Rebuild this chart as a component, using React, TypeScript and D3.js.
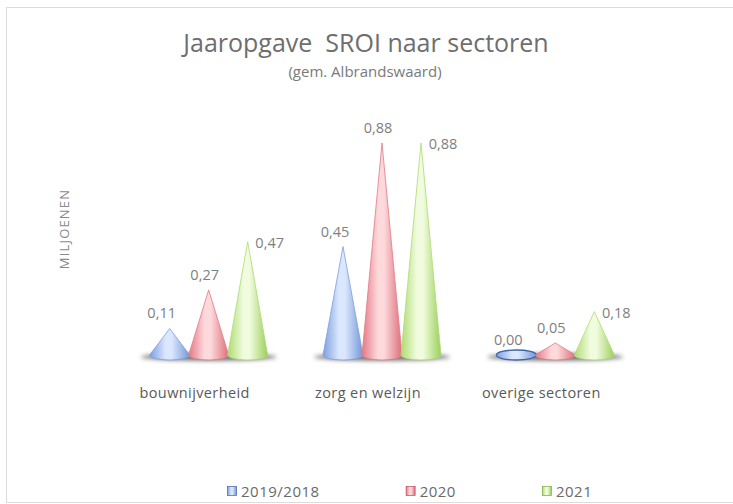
import { useEffect, useRef } from 'react';
import * as d3 from 'd3';

const categories = ['bouwnijverheid', 'zorg en welzijn', 'overige sectoren'];
const seriesNames = ['2019/2018', '2020', '2021'];
const values2019 = [0.11, 0.45, 0.0];
const values2020 = [0.27, 0.88, 0.05];
const values2021 = [0.47, 0.88, 0.18];
const seriesValues = [values2019, values2020, values2021];

const palette = [
  { edge: '#7d9fe0', light: '#dbe7fc', dark: '#7397d8', stroke: '#3f64aa' },
  { edge: '#e57884', light: '#fdd9dc', dark: '#dc6f7b', stroke: '#c24a57' },
  { edge: '#aedb72', light: '#f1fcdf', dark: '#9ccf5c', stroke: '#7aab3d' },
];

export default function App() {
  const svgRef = useRef<SVGSVGElement>(null);

  useEffect(() => {
    if (!svgRef.current) return;
    const svg = d3.select(svgRef.current);
    svg.selectAll('*').remove();

    const width = 733;
    const height = 504;
    const font = '"Open Sans", "DejaVu Sans", sans-serif';
    const baseY = 355;

    const defs = svg.append('defs');
    palette.forEach((p, i) => {
      const grad = defs
        .append('linearGradient')
        .attr('id', `cone-${i}`)
        .attr('x1', '0%')
        .attr('x2', '100%')
        .attr('y1', '0%')
        .attr('y2', '0%');
      grad.append('stop').attr('offset', '0%').attr('stop-color', p.edge);
      grad.append('stop').attr('offset', '40%').attr('stop-color', p.light);
      grad.append('stop').attr('offset', '55%').attr('stop-color', p.light);
      grad.append('stop').attr('offset', '100%').attr('stop-color', p.dark);
    });
    defs
      .append('filter')
      .attr('id', 'blur')
      .attr('x', '-50%')
      .attr('y', '-200%')
      .attr('width', '200%')
      .attr('height', '500%')
      .append('feGaussianBlur')
      .attr('stdDeviation', 2.2);

    // border
    svg
      .append('rect')
      .attr('x', 6.5)
      .attr('y', 7.5)
      .attr('width', width + 10)
      .attr('height', height - 9)
      .attr('fill', 'white')
      .attr('stroke', '#dcdcdc');

    // title
    svg
      .append('text')
      .attr('x', 366)
      .attr('y', 52)
      .attr('text-anchor', 'middle')
      .attr('font-family', font)
      .attr('font-size', 25)
      .attr('fill', '#6e6e6e')
      .text('Jaaropgave  SROI naar sectoren')
      .style('white-space', 'pre');

    svg
      .append('text')
      .attr('x', 365)
      .attr('y', 77)
      .attr('text-anchor', 'middle')
      .attr('font-family', font)
      .attr('font-size', 15)
      .attr('fill', '#7a7a7a')
      .text('(gem. Albrandswaard)');

    // axis title
    svg
      .append('text')
      .attr('transform', `translate(69,229) rotate(-90)`)
      .attr('text-anchor', 'middle')
      .attr('font-family', font)
      .attr('font-size', 13)
      .attr('letter-spacing', 1.2)
      .attr('fill', '#8a8a8a')
      .text('MILJOENEN');

    const xScale = d3.scaleBand().domain(categories).range([122, 642]);
    const inner = d3.scalePoint().domain(seriesNames).range([-39, 39]);
    const yScale = d3.scaleLinear().domain([0, 1]).range([baseY, baseY - 241]);

    const rx = 20;
    const ry = 5;
    const g = svg.append('g');

    // floor shadows
    categories.forEach((c) => {
      const cx = xScale(c)! + xScale.bandwidth() / 2;
      g.append('ellipse')
        .attr('cx', cx)
        .attr('cy', baseY + 2)
        .attr('rx', 68)
        .attr('ry', 3.5)
        .attr('fill', '#333')
        .attr('opacity', 0.7)
        .attr('filter', 'url(#blur)');
    });

    const labelDx = [-8, -4, 22];
    const labelDy = [-10, -10, 6];

    seriesNames.forEach((s, si) => {
      seriesValues[si].forEach((v, ci) => {
        const cx = xScale(categories[ci])! + xScale.bandwidth() / 2 + inner(s)!;
        const apex = yScale(v);
        const p = palette[si];
        if (v === 0) {
          g.append('ellipse')
            .attr('cx', cx)
            .attr('cy', baseY)
            .attr('rx', rx)
            .attr('ry', ry)
            .attr('fill', `url(#cone-${si})`)
            .attr('stroke', p.stroke)
            .attr('stroke-width', 1.3);
        } else {
          g.append('path')
            .attr(
              'd',
              `M${cx - rx},${baseY} L${cx},${apex} L${cx + rx},${baseY} A${rx},${ry} 0 0 1 ${cx - rx},${baseY} Z`
            )
            .attr('fill', `url(#cone-${si})`)
            .attr('stroke', p.edge)
            .attr('stroke-width', 0.8);
        }
        g.append('text')
          .attr('x', cx + labelDx[si])
          .attr('y', apex + labelDy[si])
          .attr('text-anchor', 'middle')
          .attr('font-family', font)
          .attr('font-size', 14.5)
          .attr('fill', '#7f7f7f')
          .text(d3.format('.2f')(v).replace('.', ','));
      });
    });

    // category labels
    categories.forEach((c) => {
      g.append('text')
        .attr('x', xScale(c)! + xScale.bandwidth() / 2 - 14)
        .attr('y', 398)
        .attr('text-anchor', 'middle')
        .attr('font-family', font)
        .attr('font-size', 14.5)
        .attr('letter-spacing', 0.4)
        .attr('fill', '#5a5a5a')
        .text(c);
    });

    // legend
    const legend = svg.append('g').attr('transform', 'translate(227,486)');
    let lx = 0;
    seriesNames.forEach((s, si) => {
      const item = legend.append('g').attr('transform', `translate(${lx},0)`);
      item
        .append('rect')
        .attr('x', 0.5)
        .attr('y', 0.5)
        .attr('width', 9)
        .attr('height', 9)
        .attr('fill', `url(#cone-${si})`)
        .attr('stroke', palette[si].stroke)
        .attr('stroke-width', 0.7);
      const t = item
        .append('text')
        .attr('x', 14)
        .attr('y', 10.5)
        .attr('font-family', font)
        .attr('font-size', 15)
        .attr('letter-spacing', 0.5)
        .attr('fill', '#6a6a6a')
        .text(s);
      const tw = (t.node() as SVGTextElement).getComputedTextLength();
      lx += 14 + tw + 86;
    });
  }, []);

  return (
    <svg
      ref={svgRef}
      width={733}
      height={504}
      style={{ position: 'absolute', left: 0, top: 0, background: 'white' }}
    />
  );
}
